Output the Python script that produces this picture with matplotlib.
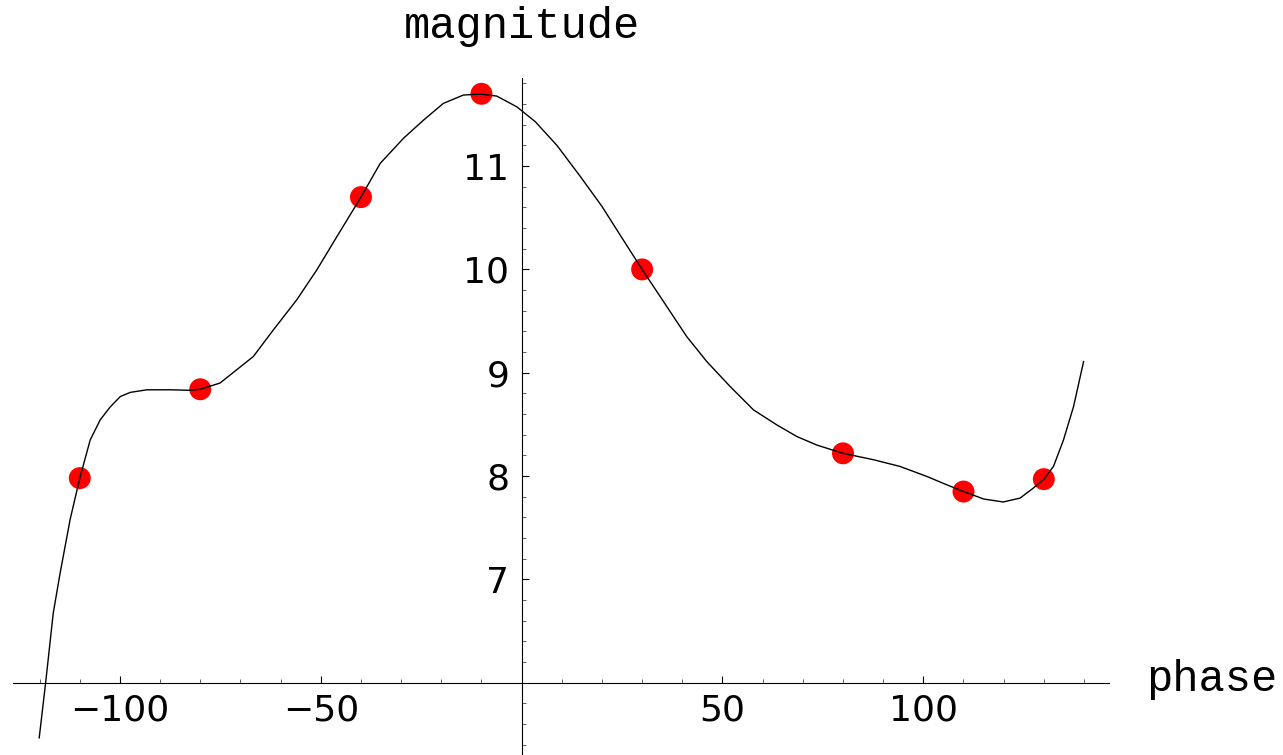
import numpy as np
import matplotlib
matplotlib.use("Agg")
import matplotlib.pyplot as plt
from matplotlib.ticker import FixedLocator, MultipleLocator

# measured samples
phase = [-110, -80, -40, -10, 30, 80, 110, 130]
magnitude = [7.98, 8.84, 10.70, 11.70, 10.00, 8.22, 7.85, 7.97]

# fitted curve, read along its length
curve_x = [-120.1, -118.5, -116.6, -114.9, -112.4, -110.0, -107.4, -104.9,
           -102.4, -99.9, -97.4, -93.3, -87.5, -82.5, -80.0, -75.1, -70.9,
           -66.8, -61.8, -56.0, -51.0, -46.0, -40.0, -35.2, -29.4, -24.4,
           -19.5, -14.5, -10.2, -6.2, -1.2, 3.4, 8.8, 14.6, 20.0, 24.5,
           30.0, 34.5, 41.1, 46.1, 51.9, 57.7, 63.5, 68.5, 73.5, 80.0,
           87.6, 94.2, 100.9, 105.8, 110.0, 115.0, 119.9, 124.1, 127.4,
           130.0, 132.4, 134.9, 137.4, 139.9]
curve_y = [5.466, 6.00, 6.675, 7.06, 7.58, 7.98, 8.35, 8.545,
           8.67, 8.77, 8.81, 8.835, 8.835, 8.83, 8.84, 8.90, 9.03,
           9.157, 9.415, 9.705, 9.995, 10.317, 10.70, 11.027, 11.27, 11.446,
           11.607, 11.688, 11.697, 11.678, 11.574, 11.43, 11.20, 10.90, 10.61, 10.334,
           10.00, 9.737, 9.35, 9.108, 8.867, 8.641, 8.496, 8.383, 8.30, 8.22,
           8.158, 8.093, 7.996, 7.916, 7.851, 7.778, 7.749, 7.787, 7.884,
           7.97, 8.093, 8.35, 8.673, 9.108]

x_major = [-100, -50, 50, 100]
y_major = [7, 8, 9, 10, 11]

fig = plt.figure(figsize=(12.83, 7.55), dpi=100)
ax = fig.add_axes([12.7 / 1283, 0.0, 1096.6 / 1283, 676.7 / 755])
ax.set_xlim(-126.7, 146.3)
ax.set_ylim(5.30, 11.85)

ax.scatter(phase, magnitude, s=250, color="#ff0000", edgecolors="none", zorder=2)
ax.plot(curve_x, curve_y, color="black", lw=1.0, zorder=3)

# axes crossing at (0, 6)
for side in ("top", "right"):
    ax.spines[side].set_visible(False)
ax.spines["left"].set_position(("data", 0))
ax.spines["bottom"].set_position(("data", 6))
for side in ("left", "bottom"):
    ax.spines[side].set_linewidth(0.8)

ax.xaxis.set_major_locator(FixedLocator(x_major))
ax.xaxis.set_minor_locator(MultipleLocator(10))
ax.yaxis.set_major_locator(FixedLocator(y_major))
ax.yaxis.set_minor_locator(MultipleLocator(0.2))
ax.tick_params(which="both", direction="in", colors="black", labelsize=26)
ax.tick_params(which="major", length=5, width=0.8)
ax.tick_params(which="minor", length=3, width=0.6, color="#444444")
ax.tick_params(axis="x", which="major", pad=8)
ax.tick_params(axis="y", which="major", pad=9)
ax.set_xticklabels(["−100", "−50", "50", "100"])

ax.text(0, 12.24, "magnitude", family="Liberation Mono", fontsize=31.5,
        ha="center", va="baseline", clip_on=False)
ax.text(155.5, 5.92, "phase", family="Liberation Mono", fontsize=31.5,
        ha="left", va="baseline", clip_on=False)

fig.savefig("out.png", dpi=100)
